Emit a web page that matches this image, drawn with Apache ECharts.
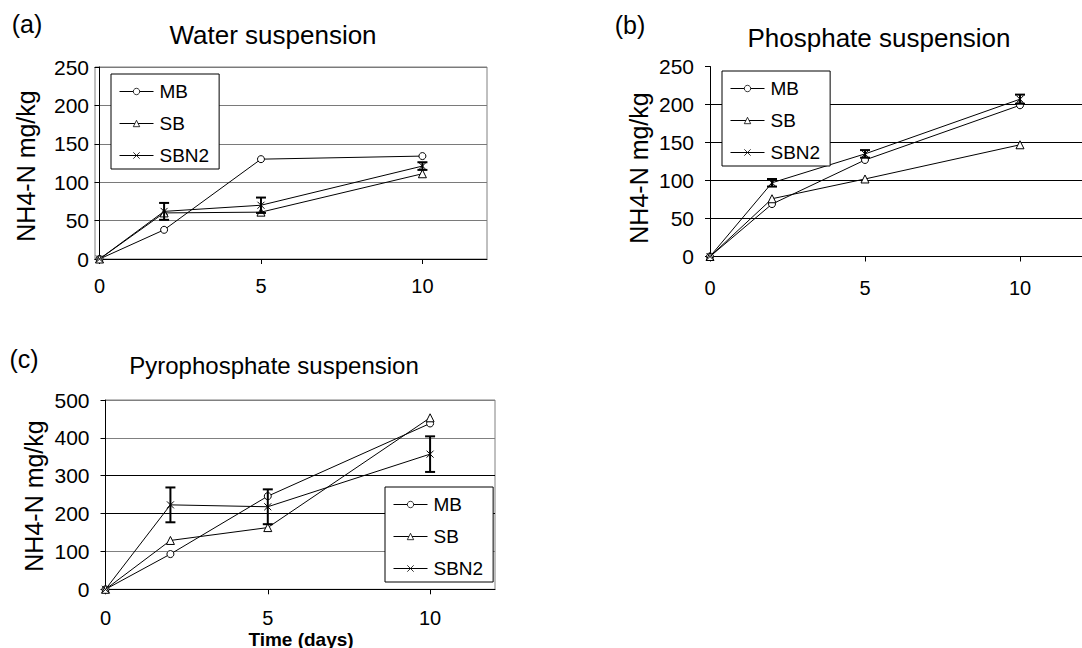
<!DOCTYPE html>
<html><head><meta charset="utf-8">
<script src="https://cdn.jsdelivr.net/npm/echarts@6/dist/echarts.min.js"></script>
<style>html,body{margin:0;padding:0;background:#fff}#c{width:1082px;height:648px}</style>
</head><body><div id="c"></div>
<script>
// ---- data ----
const days = [0, 2, 5, 10];
const xTickValues = [0, 5, 10];
const seriesNames = ['MB', 'SB', 'SBN2'];
const panelTitles = ['Water suspension', 'Phosphate suspension', 'Pyrophosphate suspension'];
const panelLabels = ['(a)', '(b)', '(c)'];
const yAxisTitle = 'NH4-N mg/kg';
const xAxisTitle = 'Time (days)';

const waterMB = [0, 38, 130, 134];
const waterSB = [0, 60, 61, 111];
const waterSBN2 = [0, 62, 70, 121];
const waterSBN2Err = [0, 11, 10, 5];

const phosMB = [0, 69, 127, 199];
const phosSB = [0, 76, 102, 147];
const phosSBN2 = [0, 97, 135, 207];
const phosSBN2Err = [0, 5, 5, 6];

const pyroMB = [0, 93, 246, 438];
const pyroSB = [0, 129, 163, 453];
const pyroSBN2 = [0, 223, 218, 357];
const pyroSBN2Err = [0, 46, 46, 47];

// ---- styles ----
const FONT = "'Liberation Sans', Arial, sans-serif";
const symbols = {
  MB: {symbol: 'circle', size: 7},
  SB: {symbol: 'triangle', size: 8},
  SBN2: {symbol: 'path://M0,0L10,10M10,0L0,10', size: 7}
};

const panels = [
  {grid: {left: 95, top: 67, width: 392, height: 192, show: true, borderColor: '#808080', borderWidth: 1},
   xmin: -0.14, ymax: 250, yint: 50, split: '#7a7a7a', ylabMargin: 6, xlabMargin: 17,
   data: {MB: waterMB, SB: waterSB, SBN2: waterSBN2}, err: waterSBN2Err,
   legend: {left: 111, top: 74}},
  {grid: {left: 710, top: 66.5, width: 383, height: 190, show: false},
   xmin: 0, ymax: 250, yint: 50, split: ['#000', '#000', '#000', '#000', '#000', 'rgba(0,0,0,0)'], ylabMargin: 16, xlabMargin: 21,
   data: {MB: phosMB, SB: phosSB, SBN2: phosSBN2}, err: phosSBN2Err,
   legend: {left: 722, top: 71}},
  {grid: {left: 105.5, top: 400, width: 389.5, height: 189.3, show: true, borderColor: '#808080', borderWidth: 1},
   xmin: 0, ymax: 500, yint: 100, split: ['#000', '#808080', '#000', '#000', '#808080', '#808080'], ylabMargin: 16, xlabMargin: 19,
   data: {MB: pyroMB, SB: pyroSB, SBN2: pyroSBN2}, err: pyroSBN2Err,
   legend: {left: 385, top: 487}}
];

function errRender(params, api) {
  const x = api.value(0), y = api.value(1), e = api.value(2);
  if (!e) return null;
  const t = api.coord([x, y + e]), b = api.coord([x, y - e]);
  const w = 5;
  const st = {stroke: '#000', lineWidth: 2};
  return {type: 'group', children: [
    {type: 'line', shape: {x1: t[0], y1: t[1], x2: b[0], y2: b[1]}, style: st},
    {type: 'line', shape: {x1: t[0] - w, y1: t[1], x2: t[0] + w, y2: t[1]}, style: st},
    {type: 'line', shape: {x1: b[0] - w, y1: b[1], x2: b[0] + w, y2: b[1]}, style: st}
  ]};
}

const grids = [], xAxes = [], yAxes = [], series = [], legends = [];
panels.forEach((p, i) => {
  grids.push(p.grid);
  xAxes.push({
    type: 'value', gridIndex: i, min: p.xmin, max: 12,
    axisLine: {show: true, onZero: false, lineStyle: {color: '#000', width: 1}},
    axisTick: {show: true, customValues: xTickValues, length: 5, lineStyle: {color: '#000'}},
    axisLabel: {customValues: xTickValues, color: '#000', fontSize: 20, fontFamily: FONT, margin: p.xlabMargin},
    splitLine: {show: false}
  });
  yAxes.push({
    type: 'value', gridIndex: i, min: 0, max: p.ymax, interval: p.yint,
    axisLine: {show: true, lineStyle: {color: '#000', width: 1}},
    axisTick: {show: true, length: 5, lineStyle: {color: '#000'}},
    axisLabel: {color: '#000', fontSize: 21, fontFamily: FONT, margin: p.ylabMargin},
    splitLine: {show: true, lineStyle: {color: p.split, width: 1}}
  });
  seriesNames.forEach(n => {
    series.push({
      type: 'line', name: n, xAxisIndex: i, yAxisIndex: i,
      data: days.map((d, k) => [d, p.data[n][k]]),
      symbol: symbols[n].symbol, symbolSize: symbols[n].size, symbolKeepAspect: true,
      showAllSymbol: true,
      lineStyle: {color: '#000', width: 1},
      itemStyle: {color: '#fff', borderColor: '#000', borderWidth: 1},
      emphasis: {disabled: true}, animation: false, z: 3
    });
  });
  series.push({
    type: 'custom', name: 'err' + i, xAxisIndex: i, yAxisIndex: i,
    data: days.map((d, k) => [d, p.data.SBN2[k], p.err[k]]),
    encode: {x: 0, y: 1}, renderItem: errRender, animation: false, z: 4, silent: true
  });
  legends.push({
    data: seriesNames, orient: 'vertical', left: p.legend.left, top: p.legend.top,
    padding: [8, 10, 4, 8], itemWidth: 34, itemHeight: 8, itemGap: 13,
    borderColor: '#000', borderWidth: 1, backgroundColor: '#fff', selectedMode: false,
    lineStyle: {width: 1, color: '#000'},
    itemStyle: {color: '#fff', borderColor: '#000', borderWidth: 0.8},
    textStyle: {color: '#000', fontSize: 19, fontFamily: FONT, padding: [0, 0, 0, 1]}
  });
});

function txt(text, x, y, size, opts) {
  opts = opts || {};
  return {type: 'text', x: x, y: y, rotation: opts.rot || 0, silent: true, z: 10,
    style: {text: text, x: 0, y: 0, fill: '#000', fontSize: size, fontFamily: FONT,
      fontWeight: opts.bold ? 'bold' : 'normal',
      align: 'center', verticalAlign: 'middle', textAlign: 'center', textVerticalAlign: 'middle'}};
}

const graphics = [
  txt(panelLabels[0], 27, 24, 25),
  txt(panelLabels[1], 630, 24.5, 25),
  txt(panelLabels[2], 24, 359, 25),
  txt(panelTitles[0], 273, 34.5, 26),
  txt(panelTitles[1], 879, 37.5, 26),
  txt(panelTitles[2], 274, 365.5, 24),
  txt(yAxisTitle, 26, 166, 25, {rot: Math.PI / 2}),
  txt(yAxisTitle, 639, 168, 25, {rot: Math.PI / 2}),
  txt(yAxisTitle, 34, 496, 25, {rot: Math.PI / 2}),
  txt(xAxisTitle, 301, 639, 19, {bold: true})
];

const chart = echarts.init(document.getElementById('c'), null, {renderer: 'svg', width: 1082, height: 648});
chart.setOption({
  animation: false,
  backgroundColor: '#fff',
  grid: grids, xAxis: xAxes, yAxis: yAxes, series: series, legend: legends,
  graphic: graphics
});
</script></body></html>
